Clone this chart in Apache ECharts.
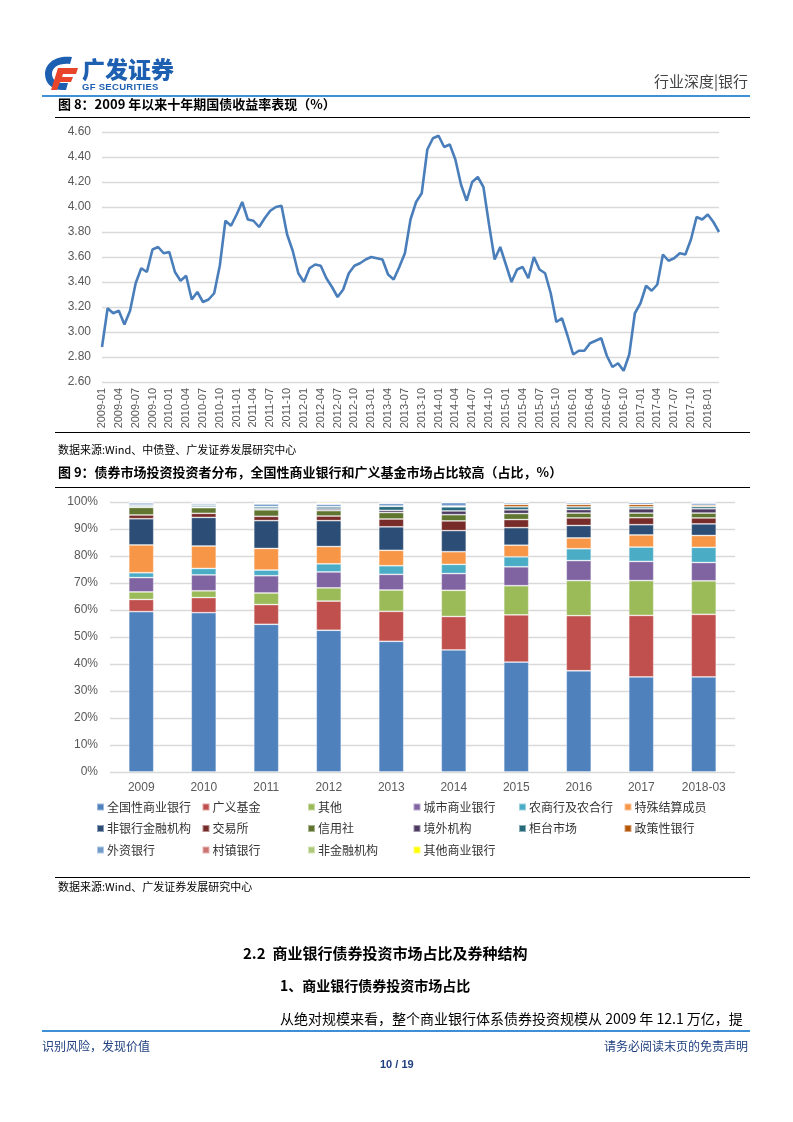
<!DOCTYPE html>
<html>
<head>
<meta charset="utf-8">
<script src="https://cdn.jsdelivr.net/npm/echarts@6/dist/echarts.min.js"></script>
<style>
html,body{margin:0;padding:0;background:#fff;}
body{width:793px;height:1122px;position:relative;overflow:hidden;font-family:"Noto Sans CJK SC","Liberation Sans",sans-serif;}
.t{position:absolute;white-space:nowrap;line-height:1;}
.hl{position:absolute;height:0;}
#chart{position:absolute;left:0;top:0;width:793px;height:1122px;}
</style>
</head>
<body>
<div id="chart"></div>

<!-- header -->
<svg style="position:absolute;left:42px;top:54px" width="40" height="38" viewBox="0 0 40 38">
  <path d="M30 3 C14 1 3 9 3 20 C3 30 11 36 20 36 L24 36 L26 29 L20 29 C14 29 10 25 10 20 C10 13 17 9 28 10 Z" fill="#1d5fb0"/>
  <path d="M16 14 L36 14 L34 20 L21 20 L20 23 L31 23 L29 28 L18 28 L15 36 L9 36 Z" fill="#e8452b"/>
</svg>
<div class="t" style="left:82px;top:57px;font-size:23px;font-weight:900;color:#1d5fb0;letter-spacing:0px;">广发证券</div>
<div class="t" style="left:82px;top:82px;font-size:9.5px;font-weight:700;color:#1d5fb0;font-family:'Liberation Sans',sans-serif;letter-spacing:0.3px;">GF SECURITIES</div>
<div class="t" style="right:45px;top:73px;font-size:15px;color:#444;">行业深度|银行</div>
<div class="hl" style="left:42px;width:708px;top:95px;border-top:2px solid #3f8fd6;"></div>

<div class="t" style="left:58px;top:97px;font-size:13px;font-weight:700;color:#000;">图 8：2009 年以来十年期国债收益率表现（%）</div>
<div class="hl" style="left:55px;width:695px;top:117px;border-top:1.5px solid #000;"></div>
<div class="hl" style="left:55px;width:695px;top:432px;border-top:1.5px solid #000;"></div>
<div class="t" style="left:58px;top:444px;font-size:11px;color:#000;">数据来源:Wind、中债登、广发证券发展研究中心</div>

<div class="t" style="left:58px;top:465px;font-size:13px;font-weight:700;color:#000;">图 9：债券市场投资投资者分布，全国性商业银行和广义基金市场占比较高（占比，%）</div>
<div class="hl" style="left:55px;width:695px;top:487px;border-top:1.5px solid #000;"></div>
<div class="hl" style="left:55px;width:695px;top:877px;border-top:1.5px solid #000;"></div>
<div class="t" style="left:58px;top:881px;font-size:11px;color:#000;">数据来源:Wind、广发证券发展研究中心</div>

<div class="t" style="left:243px;top:945px;font-size:15px;font-weight:700;color:#000;">2.2&nbsp; 商业银行债券投资市场占比及券种结构</div>
<div class="t" style="left:280px;top:978px;font-size:14px;font-weight:700;color:#000;">1、商业银行债券投资市场占比</div>
<div class="t" style="left:280px;top:1011px;font-size:14px;color:#000;">从绝对规模来看，整个商业银行体系债券投资规模从 2009 年 12.1 万亿，提</div>

<div class="hl" style="left:42px;width:708px;top:1030px;border-top:2px solid #3f8fd6;"></div>
<div class="t" style="left:42px;top:1040px;font-size:12px;color:#1f3f7f;">识别风险，发现价值</div>
<div class="t" style="right:45px;top:1040px;font-size:12px;color:#1f3f7f;">请务必阅读末页的免责声明</div>
<div class="t" style="left:380px;top:1059px;font-size:11px;font-weight:700;color:#1f3f7f;font-family:'Liberation Sans',sans-serif;">10 / 19</div>

<script>
// ---------- Figure 8 data: 10Y government bond yield, monthly 2009-01 .. 2018-03 ----------
var startYear = 2009, startMonth = 1;
var yieldValues = [
  2.88,3.19,3.15,3.17,3.06,3.17,3.39,3.51,3.48,3.66,3.68,3.63,
  3.64,3.48,3.41,3.45,3.26,3.32,3.24,3.26,3.31,3.53,3.89,3.85,
  3.94,4.04,3.90,3.89,3.84,3.91,3.97,4.00,4.01,3.78,3.65,3.47,
  3.40,3.51,3.54,3.53,3.43,3.36,3.28,3.34,3.47,3.53,3.55,3.58,
  3.60,3.59,3.58,3.46,3.42,3.52,3.63,3.90,4.04,4.11,4.46,4.55,
  4.57,4.48,4.50,4.38,4.18,4.05,4.20,4.24,4.16,3.86,3.58,3.68,
  3.54,3.40,3.50,3.52,3.43,3.60,3.50,3.47,3.31,3.08,3.11,2.97,
  2.82,2.85,2.85,2.91,2.93,2.95,2.81,2.72,2.75,2.69,2.82,3.15,
  3.23,3.37,3.33,3.38,3.62,3.57,3.59,3.63,3.62,3.74,3.92,3.90,
  3.94,3.88,3.80
];
var yieldTicks = ['2.60','2.80','3.00','3.20','3.40','3.60','3.80','4.00','4.20','4.40','4.60'];
var months = [];
for (var i = 0; i < yieldValues.length; i++) {
  var m = startMonth - 1 + i;
  var y = startYear + Math.floor(m / 12);
  var mm = (m % 12) + 1;
  months.push(y + '-' + (mm < 10 ? '0' + mm : '' + mm));
}

// ---------- Figure 9 data: investor share of bond market (%) ----------
var years = ['2009','2010','2011','2012','2013','2014','2015','2016','2017','2018-03'];
var seriesNames = ['全国性商业银行','广义基金','其他','城市商业银行','农商行及农合行','特殊结算成员',
  '非银行金融机构','交易所','信用社','境外机构','柜台市场','政策性银行','外资银行','村镇银行','非金融机构','其他商业银行'];
var s_national   = [59.4,59.0,54.7,52.5,48.4,45.2,40.7,37.5,35.2,35.2];
var s_fund       = [ 4.5, 5.6, 7.3,10.8,11.1,12.4,17.5,20.4,22.8,23.2];
var s_other      = [ 2.8, 2.5, 4.3, 4.9, 7.9, 9.7,10.8,13.0,12.9,12.4];
var s_city       = [ 5.3, 5.9, 6.4, 5.9, 5.8, 6.2, 7.0, 7.4, 7.1, 6.8];
var s_rural      = [ 1.8, 2.4, 2.1, 3.0, 3.2, 3.4, 3.7, 4.4, 5.3, 5.6];
var s_special    = [10.3, 8.3, 8.0, 6.4, 5.7, 4.7, 4.3, 4.0, 4.5, 4.4];
var s_nonbank    = [ 9.7,10.6,10.3, 9.6, 8.7, 7.8, 6.5, 4.6, 3.8, 4.3];
var s_exchange   = [ 1.4, 1.5, 1.6, 1.7, 2.9, 3.6, 3.0, 2.8, 2.6, 2.2];
var s_credit     = [ 2.8, 2.1, 2.4, 2.0, 2.4, 2.3, 2.2, 1.8, 1.7, 1.8];
var s_overseas   = [ 0.3, 0.3, 0.4, 0.6, 0.8, 1.4, 1.4, 1.3, 1.6, 1.6];
var s_counter    = [ 0.5, 0.6, 0.7, 0.8, 1.5, 1.5, 1.1, 1.0, 0.7, 0.8];
var s_policy     = [ 0.1, 0.1, 0.1, 0.1, 0.1, 0.3, 0.9, 0.9, 0.9, 0.5];
var s_foreign    = [ 0.8, 0.6, 1.0, 0.9, 1.0, 1.3, 0.6, 0.6, 0.7, 0.8];
var s_village    = [ 0.0, 0.1, 0.1, 0.1, 0.1, 0.05,0.1, 0.1, 0.1, 0.1];
var s_nonfin     = [ 0.2, 0.2, 0.3, 0.3, 0.2, 0.1, 0.1, 0.1, 0.05,0.1];
var s_othercomm  = [ 0.1, 0.2, 0.3, 0.4, 0.2, 0.05,0.1, 0.1, 0.05,0.2];
var shareTicks = ['0%','10%','20%','30%','40%','50%','60%','70%','80%','90%','100%'];

var stackData = [s_national,s_fund,s_other,s_city,s_rural,s_special,s_nonbank,s_exchange,
  s_credit,s_overseas,s_counter,s_policy,s_foreign,s_village,s_nonfin,s_othercomm];
var colors = ['#4F81BD','#C0504D','#9BBB59','#8064A2','#4BACC6','#F79646','#2C4D75','#772C2A',
  '#5F7530','#4D3B62','#276A7C','#B65708','#729ACA','#CD7371','#AFC97A','#FFFF00'];

var axisFont = {color:'#595959', fontSize:12, fontFamily:'Liberation Sans, Arial, sans-serif'};

var series = [{
  type:'line', xAxisIndex:0, yAxisIndex:0, data:yieldValues, symbol:'none',
  lineStyle:{color:'#4A7EBB', width:2.6}, itemStyle:{color:'#4A7EBB'}, silent:true
}];
for (var k = 0; k < seriesNames.length; k++) {
  series.push({
    type:'bar', name:seriesNames[k], stack:'share', xAxisIndex:1, yAxisIndex:1,
    data:stackData[k], barWidth:25,
    itemStyle:{color:colors[k], borderColor:'rgba(255,255,255,0.45)', borderWidth:0.8}
  });
}

// legend columns (3 rows x 6 columns, filled row-wise)
var legends = [];
var colX = [96, 201.5, 307, 412.5, 518, 623.5];
for (var c = 0; c < 6; c++) {
  var items = [];
  for (var r = 0; r < 3; r++) {
    var idx = r * 6 + c;
    if (idx < seriesNames.length) items.push(seriesNames[idx]);
  }
  legends.push({
    orient:'vertical', left:colX[c], top:801, itemGap:9.5, itemWidth:7, itemHeight:7,
    icon:'rect', selectedMode:false, data:items, padding:0,
    textStyle:{fontSize:12, color:'#333', fontFamily:'Noto Sans CJK SC', padding:[0,0,0,-2]}
  });
}

var chart = echarts.init(document.getElementById('chart'), null, {renderer:'canvas'});
chart.setOption({
  animation:false,
  color:colors,
  legend:legends,
  grid:[
    {left:102, top:132, width:617, height:250, containLabel:false},
    {left:110, top:502, width:625, height:270, containLabel:false}
  ],
  xAxis:[
    {gridIndex:0, type:'category', data:months, boundaryGap:false,
     axisLine:{show:false}, axisTick:{show:false},
     axisLabel:{interval:2, rotate:90, margin:6, fontSize:11, color:'#595959', fontFamily:'Liberation Sans, Arial, sans-serif'}},
    {gridIndex:1, type:'category', data:years,
     axisLine:{show:false}, axisTick:{show:false},
     axisLabel:Object.assign({margin:10}, axisFont)}
  ],
  yAxis:[
    {gridIndex:0, type:'value', min:2.6, max:4.6, interval:0.2,
     axisLine:{show:false}, axisTick:{show:false},
     splitLine:{lineStyle:{color:'#D9D9D9', width:1.3}},
     axisLabel:Object.assign({margin:11, formatter:function(v){
       var i = Math.round((v - 2.6) / 0.2); return yieldTicks[i] || v.toFixed(2);
     }}, axisFont)},
    {gridIndex:1, type:'value', min:0, max:100, interval:10,
     axisLine:{show:false}, axisTick:{show:false},
     splitLine:{lineStyle:{color:'#D9D9D9', width:1.3}},
     axisLabel:Object.assign({margin:12, formatter:function(v){
       return shareTicks[Math.round(v / 10)];
     }}, axisFont)}
  ],
  series:series
});
</script>
</body>
</html>
